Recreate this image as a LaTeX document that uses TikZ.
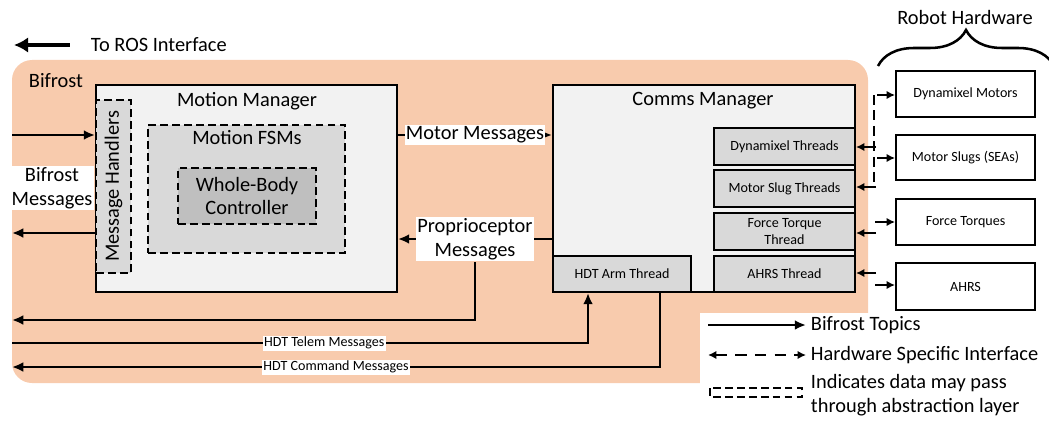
\documentclass[tikz,border=0pt]{standalone}
\usepackage{fontspec}
\setmainfont{Carlito}
\usetikzlibrary{arrows.meta,fit,decorations.pathreplacing}
\definecolor{bifrostorange}{HTML}{F8CBAD}
\definecolor{panelgray}{HTML}{F2F2F2}
\definecolor{threadgray}{HTML}{D9D9D9}
\definecolor{wbcgray}{HTML}{BFBFBF}
\tikzset{
	big/.style={font=\fontsize{14.5}{17}\selectfont},
	small/.style={font=\fontsize{10}{12}\selectfont},
	panel/.style={draw, line width=1.4pt, fill=panelgray, inner sep=0pt},
	dashbox/.style={draw, line width=1.4pt, dash pattern=on 5.5pt off 3pt, inner sep=0pt},
	thread/.style={draw, line width=1.4pt, fill=threadgray, inner sep=0pt},
	hwbox/.style={draw, line width=1.4pt, fill=white, inner sep=0pt},
	boxtext/.style={small, align=center, inner sep=0pt},
	topic/.style={line width=1.6pt, -{Latex[length=8pt,width=7pt]}},
	hwlink/.style={line width=1.6pt, -{Latex[length=6pt,width=6pt]}},
	hwdash/.style={line width=1.4pt, dash pattern=on 7pt off 4pt},
	tag/.style={fill=white, inner sep=1pt},
}

\begin{document}
\begin{tikzpicture}[x=0.025cm, y=-0.025cm]
			%%%%% START %%%%%
			\useasboundingbox (0,0) rectangle (1049,420);
			
			\fill[bifrostorange, rounded corners=0.5cm] (12,60) rectangle (868,383);
			\fill[white] (700,313) rectangle (872,390);
			\node[big] (bifrost) at (56,81) {Bifrost};
			
			\node[big, anchor=west] (ros) at (86,45) {To ROS Interface};
			\coordinate (rosL) at (14,45);
			\draw[line width=2.6pt, -{Latex[length=10pt,width=11pt]}] ([xshift=-0.4cm]ros.west) -- (rosL);
			
			% motion manager
			\node[panel, fit={(96,85)(397,292)}] (motion) {};
			\node[big] (motiontitle) at (247,101) {Motion Manager};
			\node[dashbox, fill=threadgray, fit={(96,100)(131,273)}] (handlers) {};
			\node[big, rotate=90] (handlerstitle) at (handlers.center) {Message Handlers};
			\node[dashbox, fill=threadgray, fit={(148,125)(345,253)}] (fsm) {};
			\node[big] (fsmtitle) at (247,138) {Motion FSMs};
			\node[dashbox, fill=wbcgray, fit={(178,168)(316,224)}] (wbc) {};
			\node[big, align=center, inner sep=0pt] (wbctitle) at (wbc.center) {Whole-Body\\Controller};
			
			% comms manager
			\node[panel, fit={(553,85)(855,292)}] (comms) {};
			\node[big] (commstitle) at (703,101) {Comms Manager};
			\node[thread, fit={(714,128)(855,165)}] (dynthread) {};
			\node[boxtext] at (dynthread.center) {Dynamixel Threads};
			\node[thread, fit={(714,170)(855,207)}] (slugthread) {};
			\node[boxtext] at (slugthread.center) {Motor Slug Threads};
			\node[thread, fit={(714,213)(855,250)}] (ftthread) {};
			\node[boxtext] at (ftthread.center) {Force Torque\\Thread};
			\node[thread, fit={(714,256)(855,292)}] (ahrsthread) {};
			\node[boxtext] at (ahrsthread.center) {AHRS Thread};
			\node[thread, fit={(553,256)(691,292)}] (hdt) {};
			\node[boxtext] at (hdt.center) {HDT Arm Thread};
			
			% robot hardware
			\node[hwbox, fit={(896,71)(1035,117)}] (dynmotor) {};
			\node[boxtext] at (dynmotor.center) {Dynamixel Motors};
			\node[hwbox, fit={(896,135)(1035,180)}] (slugs) {};
			\node[boxtext] at (slugs.center) {Motor Slugs (SEAs)};
			\node[hwbox, fit={(896,199)(1035,245)}] (ft) {};
			\node[boxtext] at (ft.center) {Force Torques};
			\node[hwbox, fit={(896,263)(1035,310)}] (ahrs) {};
			\node[boxtext] at (ahrs.center) {AHRS};
			\draw[line width=1.8pt, decorate, decoration={brace, amplitude=0.9cm}] (878,66) -- (1054,66);
			\node[big] (hwtitle) at (965,17) {Robot Hardware};
			
			% bifrost topics
			\coordinate (inL) at (12,135);
			\coordinate (outL) at (12,233);
			\draw[topic] (inL) -- (handlers.west |- inL);
			\draw[topic] (handlers.west |- outL) -- (outL);
			\node[tag, big, align=center] (bifrostmsg) at (52,188) {Bifrost\\Messages};
			
			\draw[topic] (motion.east |- 0,135) -- node[tag, big] (motormsg) {Motor Messages} (comms.west |- 0,135);
			\draw[topic] (comms.west |- 0,239) -- node[tag, big, align=center] (proprio) {Proprioceptor\\Messages} (motion.east |- 0,239);
			\coordinate (proprioL) at (12,320);
			\draw[topic] (proprio.south) |- (proprioL);
			
			\coordinate (telemL) at (12,343);
			\coordinate (telemx) at (588,0);
			\draw[topic] (telemL) -| node[tag, small, pos=0.271] (telemmsg) {HDT Telem Messages} (hdt.south -| telemx);
			\coordinate (cmdL) at (12,367);
			\coordinate (cmdx) at (660,0);
			\draw[topic] (hdt.south -| cmdx) |- node[tag, small, pos=0.75] (cmdmsg) {HDT Command Messages} (cmdL);
			
			% hardware links
			\draw[hwdash] (874,95) -- (874,187);
			\draw[hwlink] (877,95) -- (dynmotor.west |- 0,95);
			\draw[hwlink] (876,147) -- (dynthread.east |- 0,147);
			\draw[hwlink] (877,158) -- (slugs.west |- 0,158);
			\draw[hwlink] (876,187) -- (slugthread.east |- 0,187);
			\draw[hwlink] (875,222) -- (ft.west |- 0,222);
			\draw[hwlink] (876,233) -- (ftthread.east |- 0,233);
			\draw[hwlink] (876,273) -- (ahrsthread.east |- 0,273);
			\draw[hwlink] (875,285) -- (ahrs.west |- 0,285);
			
			% legend
			\node[big, anchor=west] (lgtopics) at (806,325) {Bifrost Topics};
			\draw[topic] (708,325) -- (lgtopics.west);
			\node[big, anchor=west] (lghw) at (806,355) {Hardware Specific Interface};
			\draw[hwdash, dash pattern=on 8pt off 6pt, line width=1.6pt, {Latex[length=6pt,width=6pt]}-{Latex[length=6pt,width=6pt]}] (708,355) -- (lghw.west);
			\node[big, anchor=west, align=left] (lgabs) at (806,395) {Indicates data may pass\\through abstraction layer};
			\draw[dashbox] (710,388) rectangle (802,397);
			%%%%% END %%%%%
\end{tikzpicture}
\end{document}
